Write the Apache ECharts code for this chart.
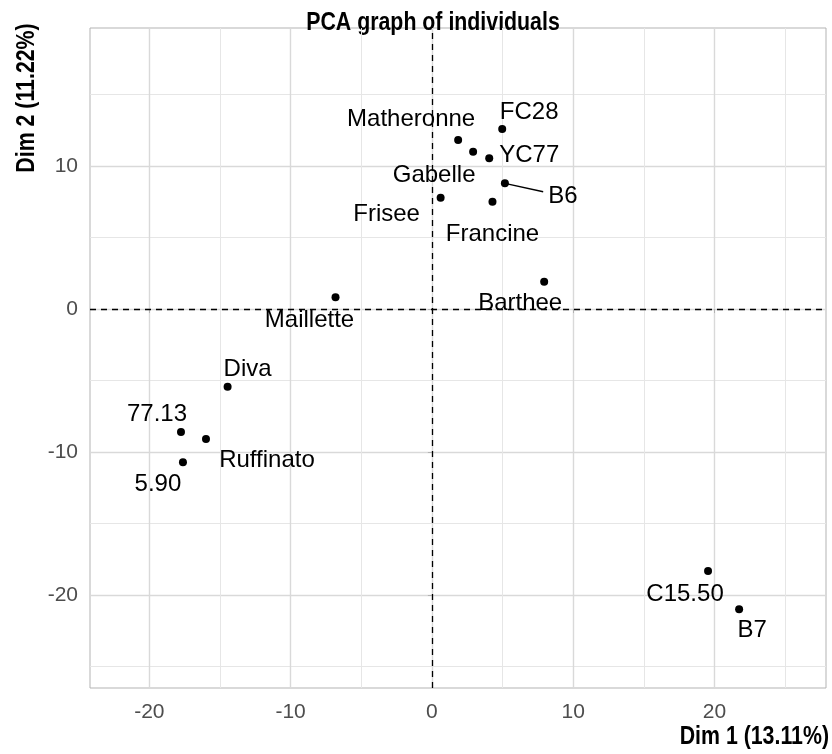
<!DOCTYPE html>
<html><head><meta charset="utf-8">
<script src="https://cdn.jsdelivr.net/npm/echarts@6/dist/echarts.min.js"></script>
<style>html,body{margin:0;padding:0;background:#fff}#c{width:832px;height:754px}</style>
</head><body><div id="c"></div>
<script>
// ---- data ----
const names = ['Matheronne','FC28','Gabelle','YC77','B6','Frisee','Francine','Barthee','Maillette','Diva','77.13','Ruffinato','5.90','C15.50','B7'];
const dim1  = [1.86, 4.98, 2.92, 4.06, 5.17, 0.62, 4.29, 7.95, -6.82, -14.46, -17.76, -15.99, -17.62, 19.55, 21.75];
const dim2  = [11.82, 12.59, 11.0, 10.54, 8.79, 7.78, 7.5, 1.91, 0.82, -5.43, -8.6, -9.09, -10.72, -18.32, -21.0];
const xMajorTicks = [-20, -10, 0, 10, 20];
const xMinorTicks = [-15, -5, 5, 15, 25];
const yMajorTicks = [-20, -10, 0, 10];
const yMinorTicks = [-25, -15, -5, 5, 15];
// repel segment for B6 (dot -> label)
const segX = [5.17, 7.88];
const segY = [8.79, 8.2];

// ---- label placement (pixel offsets from each dot) ----
const labelOffsets = [[-47,-21],[27,-17],[-39,24],[40,-3],[58,13],[-54,17],[0,33],[-24,22],[-26,23],[20,-17],[-24,-18],[61,21],[-25,22],[-23,23],[13,21]];

const FONT = 'Liberation Sans, Arial, sans-serif';
const points = names.map((n, i) => ({
  name: n, value: [dim1[i], dim2[i]],
  label: { offset: labelOffsets[i] }
}));

const chart = echarts.init(document.getElementById('c'), null, { renderer: 'canvas' });
const axisCommon = (min, max) => ({ type: 'value', min, max, axisLine: { show: false } });

chart.setOption({
  animation: false,
  backgroundColor: '#fff',
  grid: { left: 90, right: 6, top: 28, bottom: 66, show: true, borderColor: '#b3b3b3', borderWidth: 1, backgroundColor: '#fff', outerBoundsMode: 'none', containLabel: false },
  xAxis: [
    Object.assign(axisCommon(-24.2, 27.9), {
      position: 'bottom',
      axisTick: { show: true, length: 4, lineStyle: { color: '#b3b3b3', width: 1 }, customValues: xMajorTicks },
      axisLabel: { customValues: xMajorTicks, fontSize: 21, color: '#4d4d4d', margin: 14, fontFamily: FONT },
      splitLine: { show: true, lineStyle: { color: '#d9d9d9', width: 1.4 } }
    }),
    Object.assign(axisCommon(-24.2, 27.9), {
      position: 'top',
      axisTick: { show: false, customValues: xMinorTicks },
      axisLabel: { show: false },
      splitLine: { show: true, lineStyle: { color: '#e6e6e6', width: 1 } }
    })
  ],
  yAxis: [
    Object.assign(axisCommon(-26.5, 19.65), {
      position: 'left',
      axisTick: { show: true, length: 4, lineStyle: { color: '#b3b3b3', width: 1 }, customValues: yMajorTicks },
      axisLabel: { customValues: yMajorTicks, fontSize: 21, color: '#4d4d4d', margin: 12, fontFamily: FONT },
      splitLine: { show: true, lineStyle: { color: '#d9d9d9', width: 1.4 } }
    }),
    Object.assign(axisCommon(-26.5, 19.65), {
      position: 'right',
      axisTick: { show: false, customValues: yMinorTicks },
      axisLabel: { show: false },
      splitLine: { show: true, lineStyle: { color: '#e6e6e6', width: 1 } }
    })
  ],
  series: [
    {
      type: 'line', xAxisIndex: 0, yAxisIndex: 0, silent: true,
      data: segX.map((x, i) => [x, segY[i]]),
      symbol: 'none', lineStyle: { color: '#000', width: 1.3, opacity: 1 }, z: 3
    },
    {
      type: 'scatter', name: 'individuals', xAxisIndex: 0, yAxisIndex: 0,
      data: points, symbol: 'circle', symbolSize: 8,
      itemStyle: { color: '#000', opacity: 1 },
      label: { show: true, position: 'inside', formatter: '{b}', fontSize: 24, color: '#000', opacity: 1, fontFamily: FONT, align: 'center', verticalAlign: 'middle' },
      emphasis: { disabled: true },
      markLine: {
        silent: true, symbol: ['none', 'none'], animation: false,
        label: { show: false },
        lineStyle: { color: '#000', type: [6, 5], width: 1.3, opacity: 1 },
        emphasis: { disabled: true },
        data: [{ xAxis: 0 }, { yAxis: 0 }]
      },
      z: 4
    }
  ],
  graphic: [
    { type: 'text', x: 433, y: 23, scaleX: 0.82, style: { text: 'PCA graph of individuals', font: 'bold 26px ' + FONT, fill: '#000', align: 'center', verticalAlign: 'middle' } },
    { type: 'text', x: 829, y: 737, scaleX: 0.82, style: { text: 'Dim 1 (13.11%)', font: 'bold 26px ' + FONT, fill: '#000', align: 'right', verticalAlign: 'middle' } },
    { type: 'text', x: 27, y: 98, rotation: Math.PI / 2, scaleX: 0.82, style: { text: 'Dim 2 (11.22%)', font: 'bold 26px ' + FONT, fill: '#000', align: 'center', verticalAlign: 'middle' } }
  ]
});
</script>
</body></html>
